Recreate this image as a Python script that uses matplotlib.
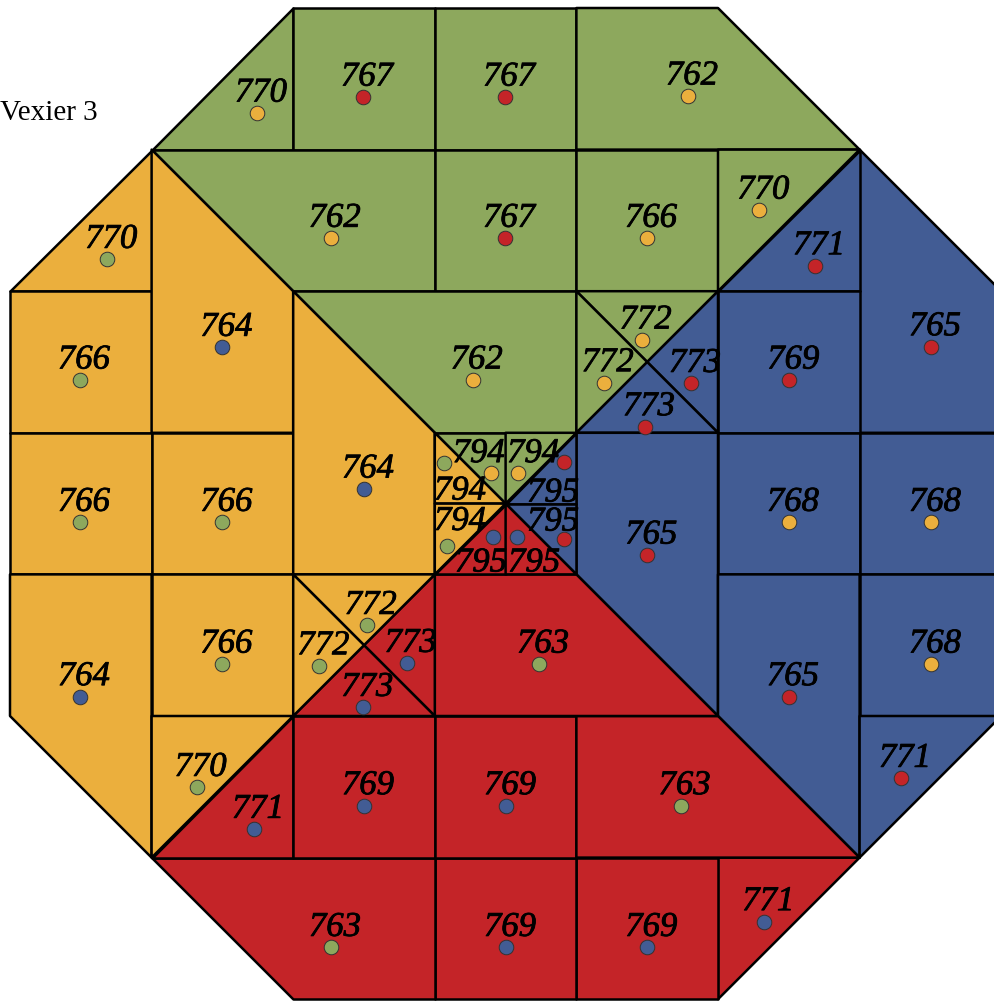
import matplotlib
matplotlib.use("Agg")
import matplotlib.pyplot as plt
import matplotlib.patheffects as pe
from matplotlib.patches import Polygon

# region colours
colours = {"g": "#8da85d", "o": "#ebaf3d", "r": "#c42428", "b": "#425c94"}

# cells of the octagon, corners in grid units (7 x 7 grid, y pointing down)
cells = [
    # green (top)
    [(2, 0), (2, 1), (1, 1)],
    [(2, 0), (3, 0), (3, 1), (2, 1)],
    [(3, 0), (4, 0), (4, 1), (3, 1)],
    [(4, 0), (5, 0), (6, 1), (4, 1)],
    [(1, 1), (3, 1), (3, 2), (2, 2)],
    [(3, 1), (4, 1), (4, 2), (3, 2)],
    [(4, 1), (5, 1), (5, 2), (4, 2)],
    [(5, 1), (6, 1), (5, 2)],
    [(2, 2), (4, 2), (4, 3), (3, 3)],
    [(4, 2), (5, 2), (4.5, 2.5)],
    [(4, 2), (4.5, 2.5), (4, 3)],
    # blue (right)
    [(6, 1), (7, 2), (7, 3), (6, 3)],
    [(6, 1), (6, 2), (5, 2)],
    [(5, 2), (6, 2), (6, 3), (5, 3)],
    [(5, 2), (5, 3), (4.5, 2.5)],
    [(4, 3), (4.5, 2.5), (5, 3)],
    [(4, 3), (5, 3), (5, 5), (4, 4)],
    [(5, 3), (6, 3), (6, 4), (5, 4)],
    [(6, 3), (7, 3), (7, 4), (6, 4)],
    [(5, 4), (6, 4), (6, 6), (5, 5)],
    [(6, 4), (7, 4), (7, 5), (6, 5)],
    [(6, 5), (7, 5), (6, 6)],
    # red (bottom)
    [(5, 6), (6, 6), (5, 7)],
    [(4, 6), (5, 6), (5, 7), (4, 7)],
    [(3, 6), (4, 6), (4, 7), (3, 7)],
    [(1, 6), (3, 6), (3, 7), (2, 7)],
    [(2, 5), (2, 6), (1, 6)],
    [(2, 5), (3, 5), (3, 6), (2, 6)],
    [(3, 5), (4, 5), (4, 6), (3, 6)],
    [(4, 5), (5, 5), (6, 6), (4, 6)],
    [(3, 4), (4, 4), (5, 5), (3, 5)],
    [(3, 4), (3, 5), (2.5, 4.5)],
    [(2, 5), (2.5, 4.5), (3, 5)],
    # orange (left)
    [(1, 1), (1, 2), (0, 2)],
    [(0, 2), (1, 2), (1, 3), (0, 3)],
    [(1, 1), (2, 2), (2, 3), (1, 3)],
    [(0, 3), (1, 3), (1, 4), (0, 4)],
    [(1, 3), (2, 3), (2, 4), (1, 4)],
    [(2, 2), (3, 3), (3, 4), (2, 4)],
    [(0, 4), (1, 4), (1, 6), (0, 5)],
    [(1, 4), (2, 4), (2, 5), (1, 5)],
    [(1, 5), (2, 5), (1, 6)],
    [(2, 4), (3, 4), (2.5, 4.5)],
    [(2, 4), (2.5, 4.5), (2, 5)],
    # centre square
    [(3, 3), (3.5, 3), (3.5, 3.5)],
    [(3, 3), (3.5, 3.5), (3, 3.5)],
    [(3.5, 3), (4, 3), (3.5, 3.5)],
    [(4, 3), (4, 3.5), (3.5, 3.5)],
    [(3, 3.5), (3.5, 3.5), (3, 4)],
    [(3.5, 3.5), (3.5, 4), (3, 4)],
    [(3.5, 3.5), (4, 3.5), (4, 4)],
    [(3.5, 3.5), (4, 4), (3.5, 4)],
]

fills = (["g"] * 11 + ["b"] * 11 + ["r"] * 11 + ["o"] * 11
         + ["g", "o", "g", "b", "o", "r", "b", "r"])

labels = [770, 767, 767, 762, 762, 767, 766, 770, 762, 772, 772,
          765, 771, 769, 773, 773, 765, 768, 768, 765, 768, 771,
          771, 769, 769, 763, 771, 769, 769, 763, 763, 773, 773,
          770, 766, 764, 766, 766, 764, 764, 766, 770, 772, 772,
          794, 794, 794, 795, 794, 795, 795, 795]

dot_cols = (["o", "r", "r", "o", "o", "r", "o", "o", "o", "o", "o"]
            + ["r", "r", "r", "r", "r", "r", "o", "o", "r", "o", "r"]
            + ["b", "b", "b", "g", "b", "b", "b", "g", "g", "b", "b"]
            + ["g", "g", "b", "g", "g", "b", "b", "g", "g", "g", "g"]
            + ["o", "g", "o", "r", "g", "b", "r", "b"])

dot_x = [1.744, 2.493, 3.496, 4.788, 2.265, 3.496, 4.499, 5.292, 3.268, 4.461, 4.193,
         6.504, 5.685, 5.504, 4.809, 4.484, 4.501, 5.501, 6.504, 5.501, 6.504, 6.292,
         5.327, 4.501, 3.503, 2.267, 1.723, 2.500, 3.503, 4.736, 3.736, 2.801, 2.495,
         0.687, 0.494, 1.500, 0.494, 1.500, 2.500, 0.494, 1.500, 1.318, 2.519, 2.185,
         3.397, 3.065, 3.588, 3.912, 3.086, 3.411, 3.912, 3.581]
dot_y = [0.742, 0.629, 0.629, 0.621, 1.626, 1.626, 1.626, 1.427, 2.627, 2.345, 2.646,
         2.392, 1.820, 2.627, 2.651, 2.957, 3.863, 3.632, 3.632, 4.863, 4.633, 5.440,
         6.452, 6.634, 6.634, 6.634, 5.800, 5.633, 5.633, 5.633, 4.633, 4.628, 4.939,
         1.775, 2.627, 2.396, 3.632, 3.632, 3.397, 4.863, 4.633, 5.504, 4.360, 4.645,
         3.284, 3.213, 3.284, 3.206, 3.799, 3.736, 3.750, 3.736]

# the crowded centre cells carry their numbers away from the dot
centre_lab_x = [3.310, 3.178, 3.694, 3.835, 3.178, 3.326, 3.835, 3.701]
centre_lab_y = [3.126, 3.390, 3.126, 3.404, 3.605, 3.898, 3.609, 3.898]

px = 141.6  # pixels per grid unit
fig = plt.figure(figsize=(9.95, 10.01), dpi=100)
ax = fig.add_axes([0, 0, 1, 1])
ax.set_xlim(-10 / px, 985 / px)
ax.set_ylim(993 / px, -8 / px)
ax.axis("off")

font = dict(family="Liberation Serif", style="italic", fontsize=25,
            path_effects=[pe.withStroke(linewidth=0.6, foreground="black")])

n_outer = len(cells) - len(centre_lab_x)
for i, pts in enumerate(cells):
    ax.add_patch(Polygon(pts, closed=True, facecolor=colours[fills[i]],
                         edgecolor="black", lw=1.8, joinstyle="round", zorder=1))
    ax.scatter(dot_x[i], dot_y[i], s=110, color=colours[dot_cols[i]],
               edgecolor="#333333", linewidth=0.7, zorder=3)
    if i < n_outer:
        lx, ly = dot_x[i] + 0.028, dot_y[i] - 0.081
    else:
        lx = centre_lab_x[i - n_outer]
        ly = centre_lab_y[i - n_outer] + 0.081
    ax.text(lx, ly, str(labels[i]), ha="center", va="baseline", zorder=4, **font)

fig.text(0.0, 1 - 113 / 1001, "Vexier 3", family="Liberation Serif",
         fontsize=21, ha="left", va="center")

fig.savefig("out.png", dpi=100)
